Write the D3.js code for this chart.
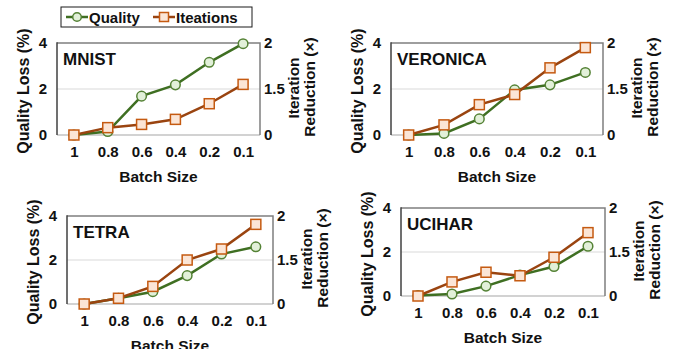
<!DOCTYPE html>
<html>
<head>
<meta charset="utf-8">
<script src="https://cdn.jsdelivr.net/npm/d3@7"></script>
<style>
  body { margin: 0; background: #fff; }
  svg text { font-family: "Liberation Sans", Arial, sans-serif; font-weight: bold; fill: #111; }
</style>
</head>
<body>
<svg id="chart" width="681" height="349"></svg>
<script>
const batchSizes = ["1", "0.8", "0.6", "0.4", "0.2", "0.1"];
const datasets = ["MNIST", "VERONICA", "TETRA", "UCIHAR"];

// quality loss (%), left axis
const qualityMNIST = [0, 0.15, 1.69, 2.18, 3.16, 3.97];
const qualityVERONICA = [0, 0.07, 0.7, 1.96, 2.18, 2.72];
const qualityTETRA = [0, 0.26, 0.56, 1.29, 2.27, 2.6];
const qualityUCIHAR = [0.02, 0.09, 0.45, 0.95, 1.34, 2.26];

// iteration reduction (x), right axis (broken axis: bottom tick drawn as 0)
const iterMNIST = [1.0, 1.08, 1.115, 1.17, 1.34, 1.55];
const iterVERONICA = [1.0, 1.11, 1.33, 1.44, 1.73, 1.95];
const iterTETRA = [1.0, 1.065, 1.2, 1.5, 1.625, 1.905];
const iterUCIHAR = [1.0, 1.16, 1.27, 1.23, 1.44, 1.72];

const leftTicks = [0, 2, 4];
const rightTicks = [1, 1.5, 2];
const rightTickLabels = ["0", "1.5", "2"];

const qualityData = [qualityMNIST, qualityVERONICA, qualityTETRA, qualityUCIHAR];
const iterData = [iterMNIST, iterVERONICA, iterTETRA, iterUCIHAR];

const greenLine = "#3f6f22";
const greenStroke = "#548235";
const greenFill = "#e2f0d9";
const orangeLine = "#9a4410";
const orangeStroke = "#c55a11";
const orangeFill = "#fbe5d6";

const svg = d3.select("svg#chart");

// plot frames for each panel
const frames = [
	{ left: 57, right: 260, top: 43, bottom: 135 },
	{ left: 391, right: 603, top: 43, bottom: 135 },
	{ left: 67, right: 273, top: 216, bottom: 304 },
	{ left: 401, right: 605, top: 208, bottom: 296 },
];

frames.forEach((f, i) => {
	const w = f.right - f.left;
	const h = f.bottom - f.top;
	const g = svg.append("g").attr("transform", `translate(${f.left},${f.top})`);

	const x = d3.scalePoint().domain(batchSizes).range([0, w]).padding(0.5);
	const yL = d3.scaleLinear([0, 4], [h, 0]);
	const yR = d3.scaleLinear([1, 2], [h, 0]);

	// gridlines
	g.selectAll(".grid")
		.data(leftTicks.filter((t) => t > 0 && t < 4))
		.enter()
		.append("line")
		.attr("x1", 0)
		.attr("x2", w)
		.attr("y1", (d) => yL(d))
		.attr("y2", (d) => yL(d))
		.attr("stroke", "#d9d9d9")
		.attr("stroke-width", 1);

	// frame
	g.append("line").attr("x1", 0).attr("x2", w).attr("y1", h).attr("y2", h)
		.attr("stroke", "#a6a6a6").attr("stroke-width", 1.2);
	g.append("path")
		.attr("d", `M0,0H${w}V${h}`)
		.attr("fill", "none")
		.attr("stroke", "#7f7f7f")
		.attr("stroke-width", 1.5);
	g.append("line").attr("x1", 0).attr("x2", 0).attr("y1", -0.75).attr("y2", h)
		.attr("stroke", "#404040").attr("stroke-width", 1.5);

	// left axis
	const leftAxis = g.append("g").call(d3.axisLeft(yL).tickValues(leftTicks).tickSize(0).tickPadding(10).tickFormat(d3.format("d")));
	leftAxis.select(".domain").remove();
	leftAxis.selectAll("text").style("font-size", "15px");

	// right axis
	const rightAxis = g.append("g")
		.attr("transform", `translate(${w},0)`)
		.call(d3.axisRight(yR).tickValues(rightTicks).tickSize(0).tickPadding(4).tickFormat((d, k) => rightTickLabels[k]));
	rightAxis.select(".domain").remove();
	rightAxis.selectAll("text").style("font-size", "15px");

	// bottom axis
	const bottomAxis = g.append("g")
		.attr("transform", `translate(0,${h})`)
		.call(d3.axisBottom(x).tickSize(0).tickPadding(11));
	bottomAxis.select(".domain").remove();
	bottomAxis.selectAll("text").style("font-size", "15px");

	// titles
	g.append("text")
		.attr("x", w / 2)
		.attr("y", h + 47)
		.attr("text-anchor", "middle")
		.style("font-size", "15.5px")
		.text("Batch Size");
	g.append("text")
		.attr("transform", `translate(-28,${h / 2 + 2}) rotate(-90)`)
		.attr("text-anchor", "middle")
		.style("font-size", "16px")
		.text("Quality Loss (%)");
	g.append("text")
		.attr("transform", `translate(${w + 39},${h / 2 - 1}) rotate(-90)`)
		.attr("text-anchor", "middle")
		.style("font-size", "15.5px")
		.text("Iteration");
	g.append("text")
		.attr("transform", `translate(${w + 55},${h / 2 - 2}) rotate(-90)`)
		.attr("text-anchor", "middle")
		.style("font-size", "15.5px")
		.text("Reduction (×)");
	g.append("text")
		.attr("x", 6)
		.attr("y", 22)
		.style("font-size", "17px")
		.text(datasets[i]);

	// quality series
	const qLine = d3.line().x((d, k) => x(batchSizes[k])).y((d) => yL(d));
	g.append("path")
		.attr("d", qLine(qualityData[i]))
		.attr("fill", "none")
		.attr("stroke", greenLine)
		.attr("stroke-width", 2.5);

	// iteration series
	const iLine = d3.line().x((d, k) => x(batchSizes[k])).y((d) => yR(d));
	g.append("path")
		.attr("d", iLine(iterData[i]))
		.attr("fill", "none")
		.attr("stroke", orangeLine)
		.attr("stroke-width", 2.5);

	g.selectAll(".qdot")
		.data(qualityData[i])
		.enter()
		.append("circle")
		.attr("cx", (d, k) => x(batchSizes[k]))
		.attr("cy", (d) => yL(d))
		.attr("r", 4.8)
		.attr("fill", greenFill)
		.attr("stroke", greenStroke)
		.attr("stroke-width", 1.5);

	g.selectAll(".idot")
		.data(iterData[i])
		.enter()
		.append("rect")
		.attr("x", (d, k) => x(batchSizes[k]) - 5)
		.attr("y", (d) => yR(d) - 5)
		.attr("width", 10)
		.attr("height", 10)
		.attr("fill", orangeFill)
		.attr("stroke", orangeStroke)
		.attr("stroke-width", 1.5);
});

// legend
const legend = svg.append("g").attr("transform", "translate(61,7)");
legend.append("rect")
	.attr("width", 191)
	.attr("height", 20)
	.attr("fill", "#fff")
	.attr("stroke", "#1a1a1a")
	.attr("stroke-width", 1);

const legendItems = [
	{ label: "Quality", x: 5, line: greenLine, stroke: greenStroke, fill: greenFill, shape: "circle" },
	{ label: "Iteations", x: 92, line: orangeLine, stroke: orangeStroke, fill: orangeFill, shape: "square" },
];
legendItems.forEach((item) => {
	const lg = legend.append("g").attr("transform", `translate(${item.x},10)`);
	lg.append("line").attr("x1", 0).attr("x2", 22).attr("stroke", item.line).attr("stroke-width", 2.5);
	if (item.shape === "circle") {
		lg.append("circle").attr("cx", 11).attr("r", 4.3)
			.attr("fill", item.fill).attr("stroke", item.stroke).attr("stroke-width", 1.5);
	} else {
		lg.append("rect").attr("x", 6.5).attr("y", -4.5).attr("width", 9).attr("height", 9)
			.attr("fill", item.fill).attr("stroke", item.stroke).attr("stroke-width", 1.5);
	}
	lg.append("text").attr("x", 23).attr("y", 5.5).style("font-size", "15px").text(item.label);
});
</script>
</body>
</html>
